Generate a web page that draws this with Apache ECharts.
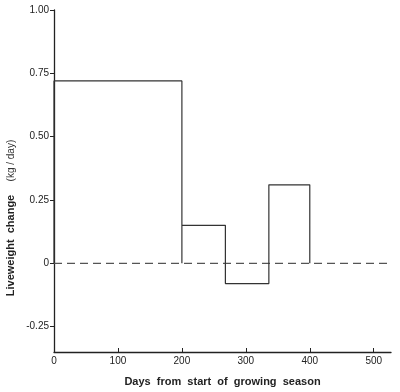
<!DOCTYPE html>
<html>
<head>
<meta charset="utf-8">
<script src="https://cdn.jsdelivr.net/npm/echarts@6/dist/echarts.min.js"></script>
<style>
html,body{margin:0;padding:0;background:#fff;}
#chart{width:400px;height:392px;}
</style>
</head>
<body>
<div id="chart"></div>
<script>
// Period boundaries (days from start of growing season)
var periodBounds = [0, 200, 268, 336, 400];
// Liveweight change in each period (kg/day)
var periodValues = [0.72, 0.15, -0.08, 0.31];
// Tick labels
var xTicks = [0, 100, 200, 300, 400, 500];
var yTicks = [-0.25, 0, 0.25, 0.5, 0.75, 1.0];
var xMax = 527;

// Build the step outline from the arrays
var stepPoints = [[periodBounds[0], 0]];
for (var i = 0; i < periodValues.length; i++) {
  stepPoints.push([periodBounds[i], periodValues[i]]);
  stepPoints.push([periodBounds[i + 1], periodValues[i]]);
  if (i === 0) stepPoints.push([periodBounds[1], 0]);
}
stepPoints.push([periodBounds[periodBounds.length - 1], 0]);

var zeroLine = [[0, 0], [xMax, 0]];

var chart = echarts.init(document.getElementById('chart'), null, {renderer: 'canvas'});
var font = 'Liberation Sans, Arial, sans-serif';
chart.setOption({
  animation: false,
  backgroundColor: '#fff',
  grid: {left: 54, right: 9, top: 10, bottom: 37},
  xAxis: {
    type: 'value', min: 0, max: xMax,
    splitLine: {show: false},
    axisLine: {show: true, onZero: false, lineStyle: {color: '#222', width: 1.3}},
    axisTick: {show: true, inside: true, length: 4, customValues: xTicks, lineStyle: {color: '#222'}},
    axisLabel: {customValues: xTicks, color: '#222', fontSize: 10, fontFamily: font, margin: 4},
    name: 'Days  from  start  of  growing  season',
    nameLocation: 'middle', nameGap: 24,
    nameTextStyle: {fontSize: 11, fontWeight: 'bold', color: '#222', fontFamily: font}
  },
  yAxis: {
    type: 'value', min: -0.35, max: 1.0,
    splitLine: {show: false},
    axisLine: {show: true, onZero: false, lineStyle: {color: '#222', width: 1.3}},
    axisTick: {show: true, length: 4, customValues: yTicks, lineStyle: {color: '#222'}},
    axisLabel: {customValues: yTicks, color: '#222', fontSize: 10, fontFamily: font, margin: 5,
      formatter: function (v) { return Math.abs(v) < 1e-9 ? '0' : v.toFixed(2); }}
  },
  graphic: [{
    type: 'text', x: 11, y: 218, rotation: Math.PI / 2,
    style: {
      text: '{b|Liveweight  change}    {n|(kg / day)}',
      align: 'center', verticalAlign: 'middle',
      rich: {
        b: {fontSize: 11, fontWeight: 'bold', fill: '#222', fontFamily: font},
        n: {fontSize: 10, fill: '#333', fontFamily: font}
      }
    }
  }],
  series: [{
    type: 'line', data: zeroLine, showSymbol: false, silent: true,
    lineStyle: {color: '#555', width: 1.1, type: [8, 5]}
  }, {
    type: 'line', data: stepPoints, showSymbol: false, silent: true,
    lineStyle: {color: '#333', width: 1.2}
  }]
});
</script>
</body>
</html>
